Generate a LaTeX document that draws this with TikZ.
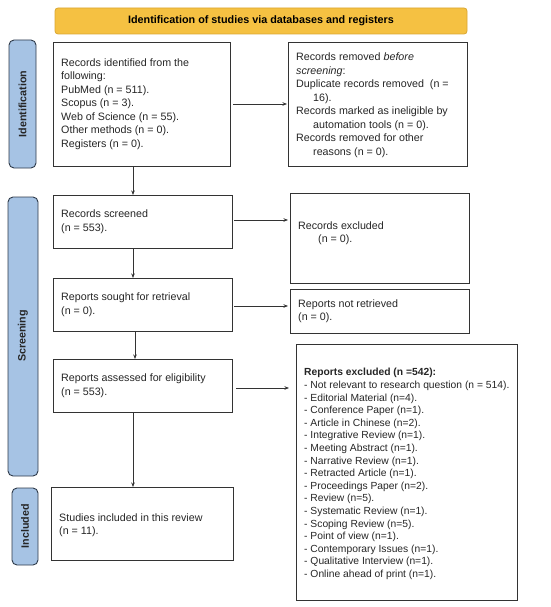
\documentclass[tikz,border=0pt]{standalone}
\usepackage{fontspec}
\setmainfont{Liberation Sans}
\usetikzlibrary{arrows.meta}
\definecolor{banner}{HTML}{F5C142}
\definecolor{bannerline}{HTML}{D9A632}
\definecolor{side}{HTML}{A6C3E4}
\definecolor{sideline}{HTML}{2E3A4A}
\definecolor{boxline}{HTML}{333333}
\begin{document}
\begin{tikzpicture}[x=1pt,y=-1pt,
  flowbox/.style={draw=boxline,line width=0.9pt,fill=white},
  sidebox/.style={draw=sideline,line width=0.9pt,fill=side,rounded corners=5pt},
  sidetext/.style={rotate=90,font=\fontsize{10.7}{12}\selectfont\bfseries,text=black!85},
  body/.style={font=\fontsize{10.7}{13.5}\selectfont,align=left,anchor=west,inner sep=0pt,text=black!85},
  arr/.style={-{Stealth[length=4.5pt,width=3.5pt]},line width=0.6pt,draw=black!80}]
\useasboundingbox (0,0) rectangle (550,607);
% banner
\draw[fill=banner,draw=bannerline,line width=0.8pt,rounded corners=3pt] (55,8) rectangle (467,34);
\node[font=\fontsize{10.8}{12}\selectfont\bfseries] (title) at (261,21) {Identification of studies via databases and registers};
% side labels
\draw[sidebox] (9,40) rectangle (36,168);
\node[sidetext] (lid) at (22.5,104) {Identification};
\draw[sidebox] (8,197) rectangle (38,476);
\node[sidetext] (lsc) at (23,336) {Screening};
\draw[sidebox] (12,488) rectangle (38,565);
\node[sidetext] (lin) at (25,526) {Included};
% boxes
\draw[flowbox] (53,42) rectangle (230,166);
\node[body] (t1) at (61,104) {Records identified from the\\following:\\PubMed (n = 511).\\Scopus (n = 3).\\Web of Science (n = 55).\\Other methods (n = 0).\\Registers (n = 0).};
\draw[flowbox] (288,42) rectangle (467,166);
\node[body] (t2) at (296,105) {Records removed \textit{before}\\\textit{screening}:\\Duplicate records removed~~(n =\\\hspace*{17pt}16).\\Records marked as ineligible by\\\hspace*{17pt}automation tools (n = 0).\\Records removed for other\\\hspace*{17pt}reasons (n = 0).};
\draw[flowbox] (53,195) rectangle (232,248);
\node[body] (t3) at (61,221.5) {Records screened\\(n = 553).};
\draw[flowbox] (290,193) rectangle (469,283);
\node[body] (t4) at (298,233) {Records excluded\\\hspace*{20pt}(n = 0).};
\draw[flowbox] (53,278) rectangle (232,331);
\node[body] (t5) at (61,304.5) {Reports sought for retrieval\\(n = 0).};
\draw[flowbox] (290,289) rectangle (469,333);
\node[body] (t6) at (298,311) {Reports not retrieved\\(n = 0).};
\draw[flowbox] (53,359) rectangle (232,412);
\node[body] (t7) at (61,385.5) {Reports assessed for eligibility\\(n = 553).};
\draw[flowbox] (296,344) rectangle (517,600);
\node[body,font=\fontsize{10.3}{12.6}\selectfont] (t8) at (304,474) {\textbf{Reports excluded (n =542):}\\- Not relevant to research question (n = 514).\\- Editorial Material (n=4).\\- Conference Paper (n=1).\\- Article in Chinese (n=2).\\- Integrative Review (n=1).\\- Meeting Abstract (n=1).\\- Narrative Review (n=1).\\- Retracted Article (n=1).\\- Proceedings Paper (n=2).\\- Review (n=5).\\- Systematic Review (n=1).\\- Scoping Review (n=5).\\- Point of view (n=1).\\- Contemporary Issues (n=1).\\- Qualitative Interview (n=1).\\- Online ahead of print (n=1).};
\draw[flowbox] (51,487) rectangle (233,560);
\node[body] (t9) at (59,525) {Studies included in this review\\(n = 11).};
% connectors
\coordinate (a1s) at (233,104); \coordinate (a1e) at (287,104);
\draw[arr] (a1s) -- (a1e);
\coordinate (d1s) at (133,166); \coordinate (d1e) at (133,195);
\draw[arr] (d1s) -- (d1e);
\coordinate (a2s) at (234,220); \coordinate (a2e) at (288,220);
\draw[arr] (a2s) -- (a2e);
\coordinate (d2s) at (133,248); \coordinate (d2e) at (133,278);
\draw[arr] (d2s) -- (d2e);
\coordinate (a3s) at (234,306); \coordinate (a3e) at (288,306);
\draw[arr] (a3s) -- (a3e);
\coordinate (d3s) at (135,331); \coordinate (d3e) at (135,359);
\draw[arr] (d3s) -- (d3e);
\coordinate (a4s) at (236,388); \coordinate (a4e) at (289,388);
\draw[arr] (a4s) -- (a4e);
\coordinate (d4s) at (133,412); \coordinate (d4e) at (133,487);
\draw[arr] (d4s) -- (d4e);
\end{tikzpicture}
\end{document}
